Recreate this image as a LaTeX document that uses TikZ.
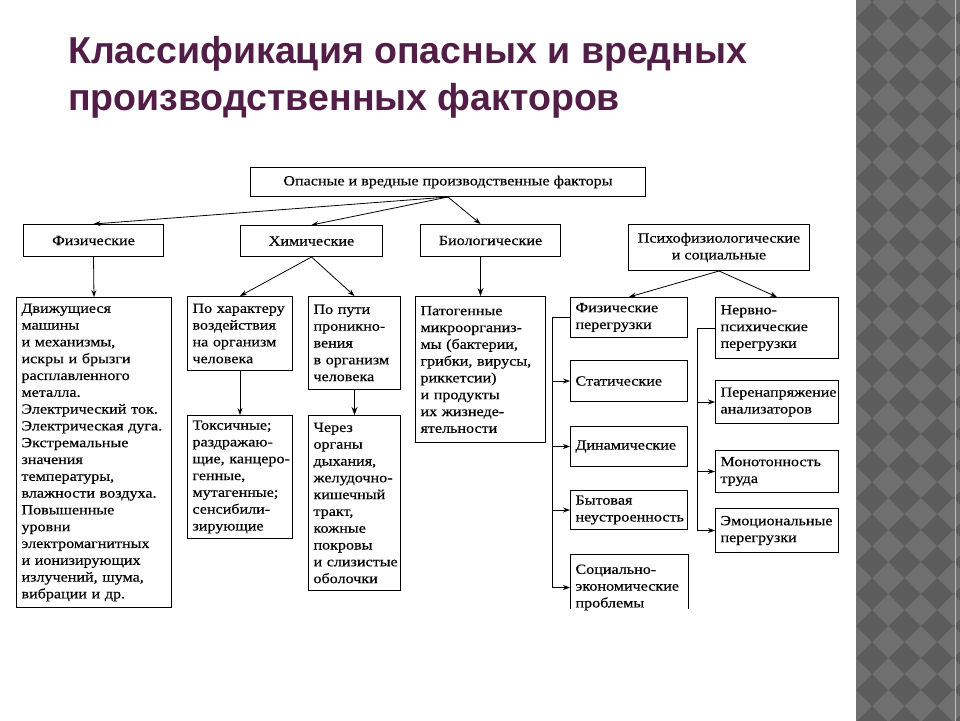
\documentclass[tikz,border=0pt]{standalone}
\usepackage{fontspec}
\setmainfont{Liberation Serif}[FakeStretch=1.15,FakeBold=0.35]
\newfontfamily\titlefont{Liberation Sans}
\usetikzlibrary{arrows.meta,calc}
\hyphenpenalty=10000
\exhyphenpenalty=10000
\definecolor{titlecol}{RGB}{82,30,72}
\definecolor{stripL}{RGB}{112,112,112}
\definecolor{stripD}{RGB}{92,92,92}
\tikzset{
  bx/.style n args={3}{draw, line width=1pt, rectangle, anchor=north west,
    align=left, inner xsep=5pt, inner ysep=0pt, minimum width=#1,
    minimum height=#2, text width=#3,
    font=\fontsize{14}{16.8}\selectfont},
  cat/.style n args={2}{draw, line width=1pt, rectangle, anchor=north west,
    align=center, inner sep=0pt, minimum width=#1, minimum height=#2,
    font=\fontsize{14}{16.8}\selectfont},
  arr/.style={line width=0.8pt, -{Stealth[length=7pt,width=5pt]}},
  arrthick/.style={line width=1.8pt, -{Stealth[length=8pt,width=6pt]}},
  brk/.style={line width=0.8pt}
}
\begin{document}
\begin{tikzpicture}[x=1pt,y=-1pt]
\useasboundingbox (0,0) rectangle (960,720);
\fill[white] (0,0) rectangle (960,720);
% right decorative strip
\begin{scope}
\clip (856,-2) rectangle (962,722);
\fill[stripL] (856,-2) rectangle (962,722);
\foreach \i in {-1,...,3}{
  \foreach \j in {-1,...,23}{
    \fill[stripD] ({872+32.5*\i},{18+32*\j}) +(-16,0) -- +(0,-16) -- +(16,0) -- +(0,16) -- cycle;
  }
}
\draw[white!55!stripL, line width=1pt] (955,-2) -- (955,722);
\end{scope}
% title
\node[anchor=base west, inner sep=0pt, text=titlecol, font=\titlefont\bfseries\fontsize{37.5}{46}\selectfont] (t1) at (68,63) {Классификация опасных и вредных};
\node[anchor=base west, inner sep=0pt, text=titlecol, font=\titlefont\bfseries\fontsize{37.5}{46}\selectfont] (t2) at (68,110) {производственных факторов};
% top node
\node[cat={395}{29}] (top) at (250,167) {Опасные и вредные производственные факторы};
% categories
\node[cat={140}{32}] (fiz) at (23,224) {Физические};
\node[cat={142}{31}] (him) at (240,225) {Химические};
\node[cat={140}{32}] (bio) at (420,224) {Биологические};
\node[cat={181}{46}] (psy) at (628,224) {Психофизиологические\\и социальные};
% detail boxes
\node[bx={155}{310}{145}] (fizbig) at (16,297) {Движущиеся\\машины\\и~механизмы,\\искры~и~брызги\\расплавленного\\металла.\\Электрический~ток.\\Электрическая~дуга.\\Экстремальные\\значения\\температуры,\\влажности~воздуха.\\Повышенные\\уровни\\электромагнитных\\и~ионизирующих\\излучений,~шума,\\вибрации~и~др.};
\node[bx={105}{74}{95}] (har) at (187,296) {По~характеру\\воздействия\\на~организм\\человека};
\node[bx={92}{93}{82}] (put) at (308,296) {По~пути\\проникно-\\вения\\в~организм\\человека};
\node[bx={105}{123}{95}] (tox) at (187,415) {Токсичные;\\раздражаю-\\щие,~канцеро-\\генные,\\мутагенные;\\сенсибили-\\зирующие};
\node[bx={92}{175}{82}] (cher) at (308,415) {Через\\органы\\дыхания,\\желудочно-\\кишечный\\тракт,\\кожные\\покровы\\и~слизистые\\оболочки};
\node[bx={130}{146}{120}] (biobig) at (415,296) {Патогенные\\микроорганиз-\\мы~(бактерии,\\грибки,~вирусы,\\риккетсии)\\и~продукты\\их~жизнеде-\\ятельности};
% psycho branch
\node[bx={117}{40}{107}] (fp) at (570,297) {Физические\\перегрузки};
\node[bx={117}{41}{107}] (stat) at (570,360) {Статические};
\node[bx={117}{40}{107}] (din) at (570,426) {Динамические};
\node[bx={117}{39}{107}] (byt) at (570,490) {Бытовая\\неустроенность};
\node[bx={117}{66}{107}, draw=none] (soc) at (570,554) {Социально-\\экономические\\проблемы};
\draw[line width=1pt] ([yshift=-55pt]soc.north west) -- (soc.north west) -- (soc.north east) -- ([yshift=-55pt]soc.north east);
\node[bx={123}{61}{113}] (nerv) at (715,297) {Нервно-\\психические\\перегрузки};
\node[bx={123}{43}{113}] (pere) at (715,380) {Перенапряжение\\анализаторов};
\node[bx={123}{42}{113}] (mono) at (715,450) {Монотонность\\труда};
\node[bx={123}{44}{113}] (emo) at (715,508) {Эмоциональные\\перегрузки};
% connectors from top
\draw[arr] (top.south) -- (fiz.north);
\draw[arr] (top.south) -- (him.north);
\draw[arr] (top.south) -- (bio.north -| biobig.north);
\draw[arr] (fiz.south) -- (fizbig.north);
\draw[arr] (him.south) -- (har.north);
\draw[arr] (him.south) -- (put.north);
\draw[arr] (har.south) -- (tox.north);
\draw[arrthick] (put.south) -- (cher.north);
\draw[arrthick] (bio.south -| biobig.north) -- (biobig.north);
\draw[arr] (psy.south) -- (fp.north);
\draw[arr] (psy.south) -- (nerv.north);
% left bracket
\coordinate (lt) at ($(fp.west)+(-18,0)$);
\coordinate (lb) at ($(soc.west)+(-18,0)$);
\draw[brk] (fp.west) -- (lt) -- (lb);
\draw[arr] (stat.west -| lt) -- (stat.west);
\draw[arr] (din.west -| lt) -- (din.west);
\draw[arr] (byt.west -| lt) -- (byt.west);
\draw[arr] (lb) -- (soc.west);
% right bracket
\coordinate (rt) at ($(nerv.west)+(-18,0)$);
\coordinate (rb) at ($(emo.west)+(-18,0)$);
\draw[brk] (nerv.west) -- (rt) -- (rb);
\draw[arr] (pere.west -| rt) -- (pere.west);
\draw[arr] (mono.west -| rt) -- (mono.west);
\draw[arr] (rb) -- (emo.west);
\end{tikzpicture}
\end{document}
